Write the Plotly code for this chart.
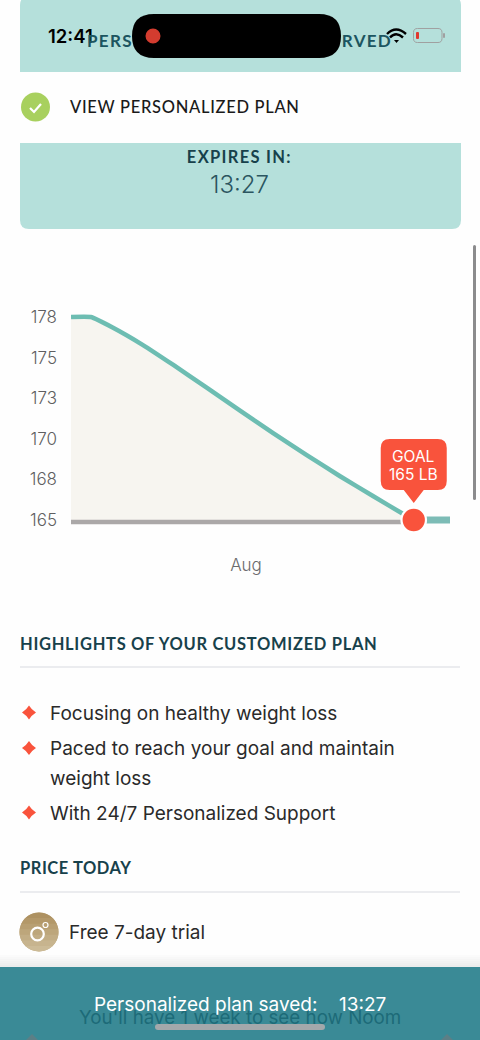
import json
import plotly.graph_objects as go

# ---- data ----
days = [0, 1.56, 3.33, 5.7, 8.1, 10.74, 13.38, 16, 18.66, 21.3, 23.9, 26.3, 27.13]
weight = [177.53, 177.53, 176.87, 175.8, 174.57, 173.17, 171.75, 170.37, 169.01, 167.7, 166.48, 165.37, 165]
baseline_value = 164.87
goal_day = 27.13
goal_weight = 165
end_day = 30
y_ticks = [177.5, 175, 172.5, 170, 167.5, 165]
y_labels = ["178", "175", "173", "170", "168", "165"]
x_ticks = [13.85]
x_labels = ["Aug"]
highlights = ["Focusing on healthy weight loss", "Paced to reach your goal and maintain", "weight loss",
              "With 24/7 Personalized Support"]

W, H = 480, 1040
TEAL, RED = "#6dbdb2", "#f9533c"
LIGHT, BAR = "#b5e0db", "#3a8a96"
DARK = "#17414b"
BODY = "Inter"
HEAD = "Lato"

def X(px): return px / W
def Y(py): return 1 - py / H

shapes, ann = [], []

def path(d_points, fill=None, line=None, lw=0, close=True):
    d = ""
    for cmd, *pts in d_points:
        d += cmd
        vals = []
        for i in range(0, len(pts), 2):
            vals.append(f"{X(pts[i]):.5f},{Y(pts[i+1]):.5f}")
        d += " ".join(vals) + " "
    if close:
        d += "Z"
    s = dict(type="path", path=d, xref="paper", yref="paper", line=dict(width=lw, color=line or "rgba(0,0,0,0)"))
    if fill:
        s["fillcolor"] = fill
    shapes.append(s)

def rrect(x0, y0, x1, y1, r, fill=None, line=None, lw=0, tl=True, tr=True, bl=True, br=True):
    rt, rr, rb, rl = (r if tl else 0), (r if tr else 0), (r if br else 0), (r if bl else 0)
    path([("M", x0 + rt, y0), ("L", x1 - rr, y0), ("Q", x1, y0, x1, y0 + rr), ("L", x1, y1 - rb),
          ("Q", x1, y1, x1 - rb, y1), ("L", x0 + rl, y1), ("Q", x0, y1, x0, y1 - rl), ("L", x0, y0 + rt),
          ("Q", x0, y0, x0 + rt, y0)], fill, line, lw)

def circle(cx, cy, r, fill=None, line=None, lw=0):
    shapes.append(dict(type="circle", xref="paper", yref="paper", x0=X(cx - r), x1=X(cx + r), y0=Y(cy + r), y1=Y(cy - r),
                       fillcolor=fill or "rgba(0,0,0,0)", line=dict(width=lw, color=line or "rgba(0,0,0,0)")))

def text(x, y, s, size, color, anchor="left", font=BODY, weight_=400):
    shift = {"left": -1, "right": 1, "center": 0}[anchor]
    ann.append(dict(xref="paper", yref="paper", x=X(x + shift), y=Y(y), text=s, showarrow=False, xanchor=anchor,
                    yanchor="middle", align=anchor, borderpad=0,
                    font=dict(size=size, color=color, family=font, weight=weight_)))

# page blocks
rrect(20, -3, 461, 72, 8, LIGHT, bl=False, br=False)
rrect(20, 143, 461, 229, 9, LIGHT, tl=False, tr=False)
for yy in (667, 892):
    shapes.append(dict(type="line", xref="paper", yref="paper", x0=X(20), x1=X(460), y0=Y(yy), y1=Y(yy),
                       line=dict(color="#e4e6ea", width=1.4)))
rrect(132, 14, 341, 58, 22, "#000000")
circle(153, 36, 7.5, "#d33c2f")
rrect(473, 245, 476, 500, 1.5, "#8b8b8d")

# check
circle(35.5, 107, 14.5, "#a8d05e")
path([("M", 30, 108), ("L", 34, 112), ("L", 41, 104)], None, "#ffffff", 2.2, close=False)

# battery / wifi
rrect(413.5, 28.5, 442, 42.5, 4, None, "#a0a0a0", 1)
rrect(443, 33, 445, 38, 1, "#a0a0a0")
rrect(416, 32, 419, 39, 1, "#e0392f")
path([("M", 387, 34), ("Q", 396, 25, 406, 34)], None, "#000000", 2.4, close=False)
path([("M", 390, 37.5), ("Q", 396, 31, 403, 37.5)], None, "#000000", 2.4, close=False)
path([("M", 394, 40), ("L", 399, 40), ("L", 396.5, 43)], "#000000")

# bullets
for cy in (712.5, 748, 812.5):
    path([("M", 29, cy - 7), ("Q", 31.5, cy - 2.8, 36, cy), ("Q", 31.5, cy + 2.8, 29, cy + 7),
          ("Q", 26.5, cy + 2.8, 22, cy), ("Q", 26.5, cy - 2.8, 29, cy - 7)], RED)

# price icon: vertical tone change from darker top to lighter bottom
icon_tones = ["#ad9161", "#b39869", "#b89f72", "#bda67b", "#c2ad85", "#c7b48e", "#ccbb97"]
icon_cx, icon_cy, icon_r = 39, 932, 19.5
circle(icon_cx, icon_cy, icon_r, icon_tones[3])
for i, tone in enumerate(icon_tones):
    top = icon_cy - icon_r + i * 2 * icon_r / len(icon_tones)
    bottom = top + 2 * icon_r / len(icon_tones) + 0.4
    pts = []
    for k in range(9):
        yy = top + (min(bottom, icon_cy + icon_r) - top) * k / 8
        half = max(icon_r ** 2 - (yy - icon_cy) ** 2, 0) ** 0.5
        pts.append((yy, half))
    cmds = [("M", icon_cx - pts[0][1], pts[0][0])]
    cmds += [("L", icon_cx + h, yy) for yy, h in pts]
    cmds += [("L", icon_cx - h, yy) for yy, h in reversed(pts)]
    path(cmds, tone)
circle(37.5, 934, 6.3, None, "#ffffff", 2.2)
circle(45.5, 925, 2.5, None, "#ffffff", 1.2)

# bottom bar
for i in range(6):
    shapes.append(dict(type="rect", xref="paper", yref="paper", x0=0, x1=1, y0=Y(967), y1=Y(955 + 2 * i),
                       fillcolor="rgba(0,0,0,0.012)", line=dict(width=0)))
shapes.append(dict(type="rect", xref="paper", yref="paper", x0=0, x1=1, y0=0, y1=Y(967), fillcolor=BAR, line=dict(width=0)))
path([("M", 32, 1034), ("L", 38, 1040), ("L", 26, 1040)], "#5c7f86")
path([("M", 447, 1034), ("L", 453, 1040), ("L", 441, 1040)], "#5c7f86")
rrect(155, 1024, 325, 1030, 3, "#a3a8ab")

# callout, anchored to the goal point
cl, cr, ct, cb, tip, r = -33, 33, 81, 30, 17, 9
callout = (f"M {cl+r},{ct} L {cr-r},{ct} Q {cr},{ct} {cr},{ct-r} L {cr},{cb+r} Q {cr},{cb} {cr-r},{cb} "
           f"L 10,{cb} L 0,{tip} L -10,{cb} L {cl+r},{cb} Q {cl},{cb} {cl},{cb+r} L {cl},{ct-r} Q {cl},{ct} {cl+r},{ct} Z")
shapes.append(dict(type="path", path=callout, xref="x", yref="y", xsizemode="pixel", ysizemode="pixel",
                   xanchor=goal_day, yanchor=goal_weight, fillcolor=RED, line=dict(width=0)))

# text
spacing = {"PERS": 1.3, "RVED": 1.3, "VIEW PERSONALIZED PLAN": 0.7, "EXPIRES IN:": 1.3,
           "HIGHLIGHTS OF YOUR CUSTOMIZED PLAN": 0.7, "PRICE TODAY": 0.55}
text(48, 36, "12:41", 18.5, "#000000", font="Inter", weight_=600)
text(87, 41, "PERS", 17, "#1c5560", font=HEAD, weight_=700)
text(392, 41, "RVED", 17, "#1c5560", "right", font=HEAD, weight_=700)
text(70, 107, "VIEW PERSONALIZED PLAN", 16.5, "#1a1a1a", font=HEAD, weight_=500)
text(239, 157, "EXPIRES IN:", 16.5, DARK, "center", font=HEAD, weight_=700)
text(239, 184, "13:27", 24, "#2b5560", "center", font="Inter", weight_=300)
text(20, 644, "HIGHLIGHTS OF YOUR CUSTOMIZED PLAN", 16.5, DARK, font=HEAD, weight_=700)
text(20, 868, "PRICE TODAY", 16.5, DARK, font=HEAD, weight_=700)
for yy, s in zip((713, 748, 778, 813), highlights):
    text(49.5, yy, s, 19, "#2a2a2a")
text(69, 932.5, "Free 7-day trial", 19, "#2a2a2a")
text(240, 1017, "You'll have 1 week to see how Noom", 18.8, "#1d6b78", "center")
text(94, 1004, "Personalized plan saved:", 19, "#ffffff")
text(339, 1004, "13:27", 19, "#ffffff")
for label, lift in (("GOAL", 64), ("165 LB", 46)):
    ann.append(dict(x=goal_day, y=goal_weight, xref="x", yref="y", text=label, showarrow=False, yshift=lift,
                    xanchor="center", yanchor="middle", font=dict(size=15.5, color="#ffffff", family="Inter", weight=400)))

fig = go.Figure()
fig.add_trace(go.Scatter(x=[days[0], goal_day], y=[baseline_value, baseline_value], mode="lines",
                         line=dict(color="#aba8a8", width=4.5), hoverinfo="skip"))
fig.add_trace(go.Scatter(x=days, y=weight, mode="lines", line=dict(color=TEAL, width=4.5, shape="spline", smoothing=0.5),
                         fill="tonexty", fillcolor="#f7f5f0"))
fig.add_trace(go.Scatter(x=[goal_day, end_day], y=[goal_weight, goal_weight], mode="lines",
                         line=dict(color="#7dbcb6", width=7)))
fig.add_trace(go.Scatter(x=[goal_day], y=[goal_weight], mode="markers",
                         marker=dict(size=24.5, color=RED, line=dict(color="#ffffff", width=2.2))))

# plot area in page pixels: x 71..450, y 300..553
fig.update_layout(
    width=W, height=H, margin=dict(l=0, r=0, t=0, b=0), showlegend=False,
    paper_bgcolor="#fefefe", plot_bgcolor="rgba(0,0,0,0)", shapes=shapes, annotations=ann,
    font=dict(family=BODY),
    xaxis=dict(domain=[X(71), X(450)], range=[0, end_day], tickvals=x_ticks, ticktext=x_labels, showgrid=False,
               zeroline=False, showline=False, ticks="", tickfont=dict(size=17, color="#6a6a6c", family=BODY, weight=300)),
    yaxis=dict(domain=[Y(553), Y(300)], range=[165 - 33 / 16.2, 165 + 220 / 16.2], tickvals=y_ticks, ticktext=y_labels,
               showgrid=False, zeroline=False, showline=False, ticks="", ticklabelstandoff=13,
               tickfont=dict(size=17, color="#5f5f61", family=BODY, weight=300)),
)

post = ("document.body.style.margin='0';document.body.style.overflow='hidden';"
        "var sp=" + json.dumps(spacing) + ";"
        "document.querySelectorAll('.annotation-text').forEach(function(t){"
        "var v=sp[t.textContent];if(v){t.style.letterSpacing=v+'px';}});")
fig.write_html("out.html", config={"displayModeBar": False}, post_script=post)
